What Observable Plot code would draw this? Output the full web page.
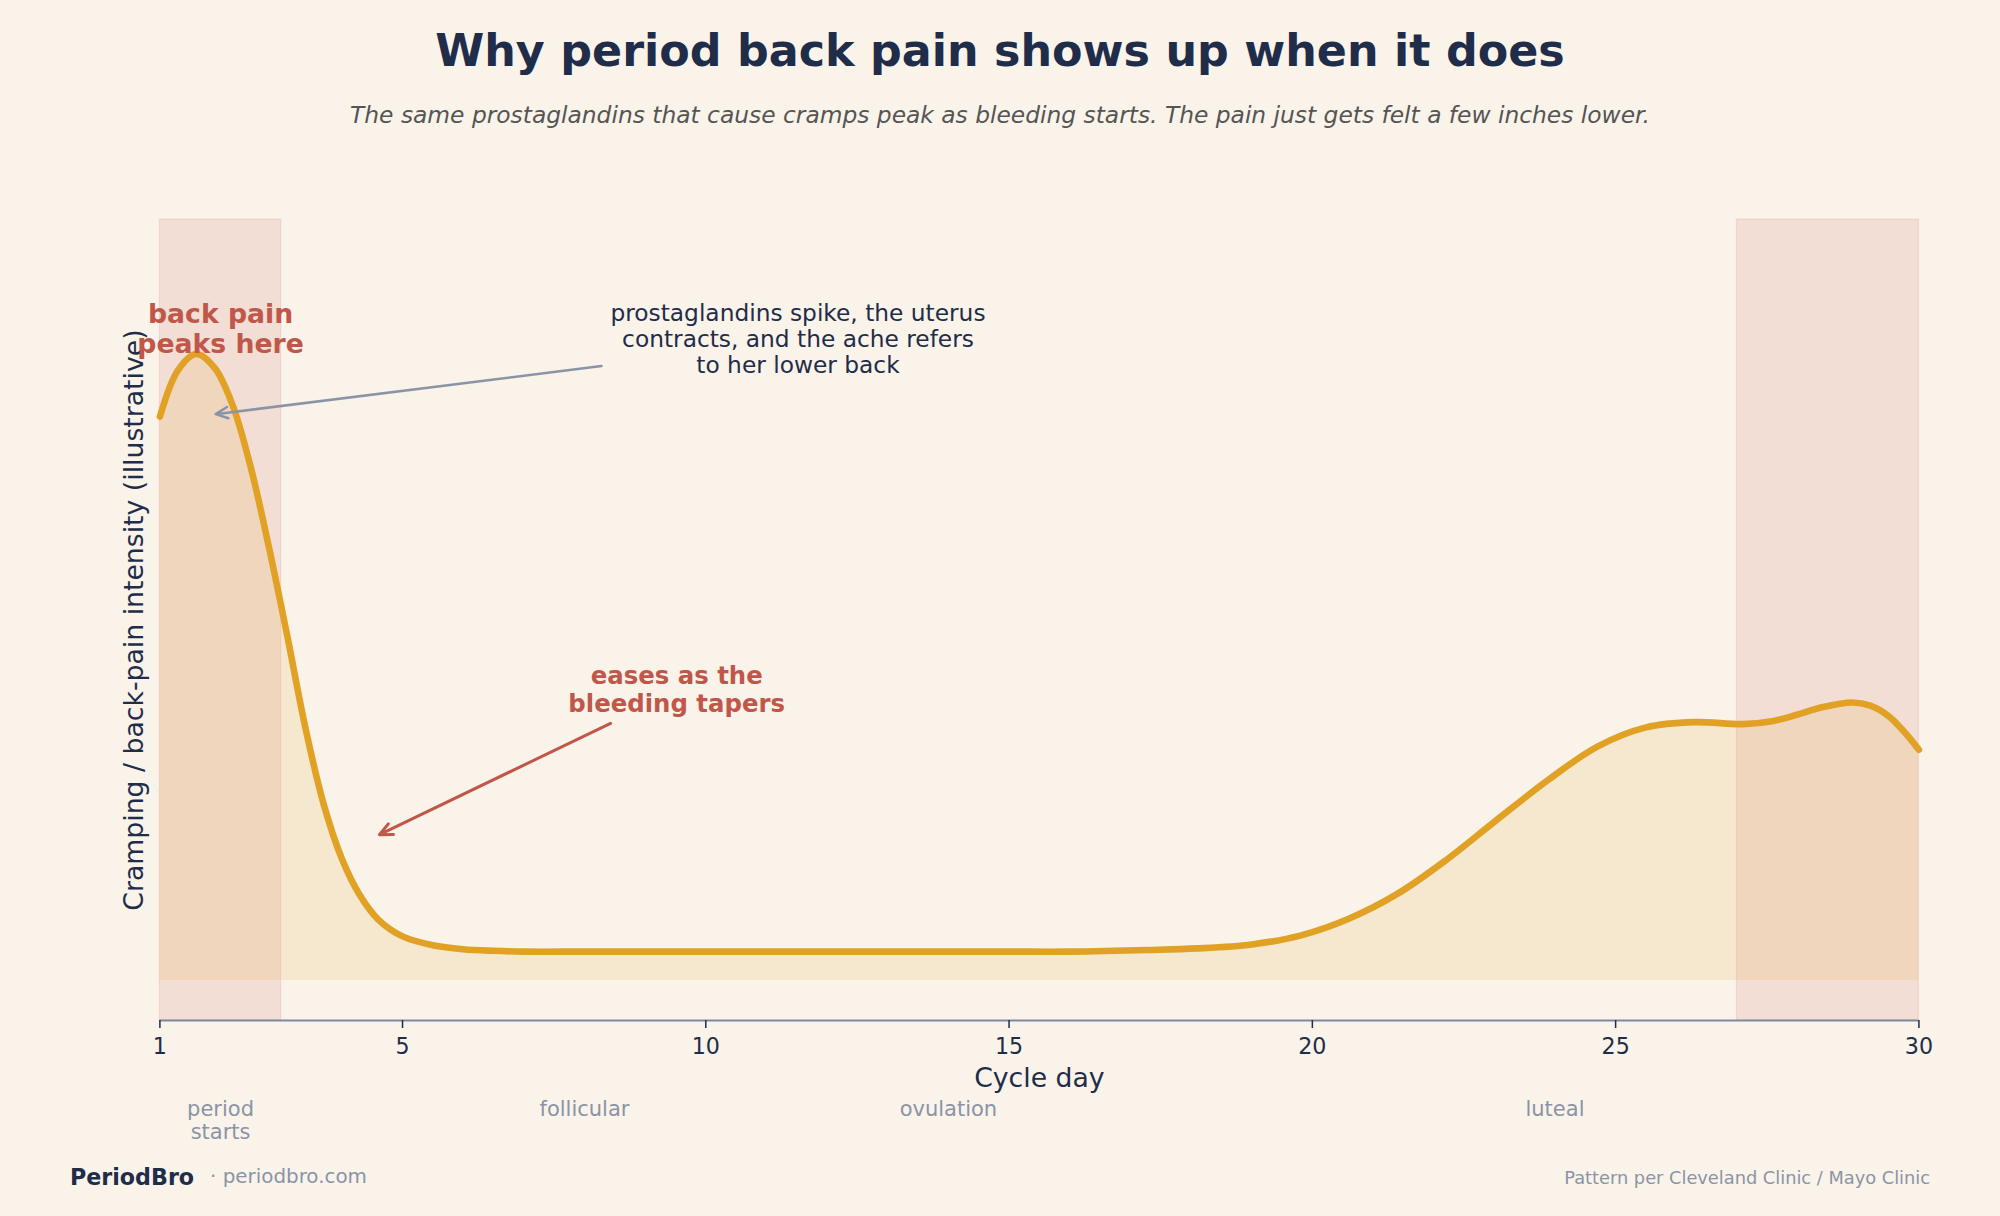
<!DOCTYPE html>
<html>
<head>
<meta charset="utf-8">
<script src="https://cdn.jsdelivr.net/npm/d3@7"></script>
<script src="https://cdn.jsdelivr.net/npm/@observablehq/plot@0.6"></script>
<style>
  html, body { margin: 0; padding: 0; background: #faf3e9; }
  #page { position: relative; width: 2000px; height: 1216px; background: #faf3e9; font-family: "DejaVu Sans", sans-serif; overflow: hidden; }
  .abs { position: absolute; line-height: 1; white-space: nowrap; }
  #title { top: 29px; left: 0; width: 2000px; text-align: center; font-size: 44.4px; font-weight: bold; color: #1f2d4a; }
  #subtitle { top: 104px; left: 0; width: 2000px; text-align: center; font-size: 23.35px; font-style: italic; color: #555555; }
  #chart { position: absolute; top: 160px; left: 0; }
  #brand { top: 1166px; left: 70px; font-size: 22.2px; font-weight: bold; color: #1f2d4a; }
  #site { top: 1167px; left: 210px; font-size: 19.9px; color: #8a94a6; }
  #source { top: 1169px; right: 70px; font-size: 17.8px; color: #8a94a6; }
</style>
</head>
<body>
<div id="page">
  <div id="title" class="abs">Why period back pain shows up when it does</div>
  <div id="subtitle" class="abs">The same prostaglandins that cause cramps peak as bleeding starts. The pain just gets felt a few inches lower.</div>
  <div id="chart"></div>
  <div id="brand" class="abs">PeriodBro</div>
  <div id="site" class="abs">· periodbro.com</div>
  <div id="source" class="abs">Pattern per Cleveland Clinic / Mayo Clinic</div>
</div>
<script>
// Illustrative cramping / back-pain intensity across a 30-day cycle
const cycleDays = [1, 1.3, 1.6, 1.9, 2.2, 2.5, 2.8, 3.1, 3.4, 3.7, 4, 4.3, 4.6, 5, 5.5, 6, 6.5,
  7, 8, 9, 10, 11, 12, 13, 14, 15, 16, 17.3, 18.1, 19, 19.8, 20.6, 21.4, 22.2, 23, 23.9, 24.7,
  25.5, 26.3, 27.1, 27.6, 28, 28.4, 28.9, 29.2, 29.5, 29.75, 30];
const intensity = [0.704, 0.762, 0.782, 0.765, 0.718, 0.64, 0.54, 0.43, 0.315, 0.22, 0.152, 0.106, 0.076, 0.055, 0.044, 0.039, 0.037,
  0.036, 0.036, 0.036, 0.036, 0.036, 0.036, 0.036, 0.036, 0.036, 0.036, 0.038, 0.040, 0.045, 0.056, 0.077, 0.108, 0.150, 0.198, 0.251, 0.292,
  0.316, 0.3225, 0.320, 0.324, 0.332, 0.341, 0.347, 0.343, 0.330, 0.311, 0.288];

// Bleeding windows (current period and the next one starting)
const spanStart = [1, 27];
const spanEnd = [3, 30];

// Cycle phases written under the axis
const phaseNames = ["period\nstarts", "follicular", "ovulation", "luteal"];
const phaseDays = [2, 8, 14, 24];

const xTicks = [1, 5, 10, 15, 20, 25, 30];
const xLabel = "Cycle day";
const yLabel = "Cramping / back-pain intensity (illustrative)";

// Annotations: text anchor and pointer endpoints
const noteText = [
  "back pain\npeaks here",
  "prostaglandins spike, the uterus\ncontracts, and the ache refers\nto her lower back",
  "eases as the\nbleeding tapers"
];
const noteDay = [2.0, 11.52, 9.52];
const noteValue = [0.814, 0.801, 0.364];
const pointerFromDay = [8.28, 8.43];
const pointerFromValue = [0.767, 0.321];
const pointerToDay = [1.92, 4.62];
const pointerToValue = [0.707, 0.182];

const yDomain = [-0.05, 0.95];

const GOLD = "#e0a125";
const RED = "#c0574a";
const NAVY = "#1f2d4a";
const GREY = "#8a94a6";

const curveData = cycleDays.map((d, i) => ({day: d, value: intensity[i]}));
const spans = spanStart.map((s, i) => ({start: s, end: spanEnd[i]}));
const phases = phaseNames.map((n, i) => ({name: n, day: phaseDays[i]}));
const notes = noteText.map((t, i) => ({text: t, day: noteDay[i], value: noteValue[i]}));
const pointers = pointerFromDay.map((d, i) => ({x1: d, y1: pointerFromValue[i], x2: pointerToDay[i], y2: pointerToValue[i]}));

const chart = Plot.plot({
  width: 2000,
  height: 1000,
  marginTop: 59,
  marginBottom: 140,
  marginLeft: 159.4,
  marginRight: 81.6,
  style: {background: "transparent", fontFamily: "DejaVu Sans", fontSize: "22.2px", overflow: "visible"},
  x: {domain: [1, 30], axis: null},
  y: {domain: yDomain, axis: null},
  marks: [
    Plot.rect(spans, {x1: "start", x2: "end", fill: RED, fillOpacity: 0.13, stroke: RED, strokeOpacity: 0.12, strokeWidth: 1.2}),
    Plot.areaY(curveData, {x: "day", y: "value", fill: GOLD, fillOpacity: 0.13, curve: "catmull-rom"}),
    Plot.line(curveData, {x: "day", y: "value", stroke: GOLD, strokeWidth: 6.6, curve: "catmull-rom"}),
    Plot.ruleY([yDomain[0]], {stroke: "#7f899d", strokeWidth: 2}),
    Plot.axisX({ticks: xTicks, tickSize: 8, tickPadding: 9.5, fontSize: 22.2, color: NAVY, strokeWidth: 1.5, label: null}),
    Plot.text([xLabel], {text: d => d, frameAnchor: "bottom", dy: 58, fontSize: 26.7, fill: NAVY, lineAnchor: "middle"}),
    Plot.text([yLabel], {text: d => d, frameAnchor: "left", dx: -25, rotate: -90, fontSize: 26.7, fill: NAVY, textAnchor: "middle", lineAnchor: "middle"}),
    Plot.text(phases, {x: "day", text: "name", frameAnchor: "bottom", dy: 79, fontSize: 21, lineHeight: 1.11, fill: GREY, lineAnchor: "top"}),
    Plot.arrow([pointers[0]], {x1: "x1", y1: "y1", x2: "x2", y2: "y2", stroke: GREY, strokeWidth: 2.5, headLength: 8, headAngle: 50, insetStart: 0, insetEnd: 0}),
    Plot.arrow([pointers[1]], {x1: "x1", y1: "y1", x2: "x2", y2: "y2", stroke: RED, strokeWidth: 3, headLength: 7, headAngle: 50, insetStart: 0, insetEnd: 0}),
    Plot.text([notes[0]], {x: "day", y: "value", text: "text", fontSize: 26.7, fontWeight: "bold", fill: RED, lineHeight: 1.124, lineAnchor: "middle"}),
    Plot.text([notes[1]], {x: "day", y: "value", text: "text", fontSize: 23.3, fill: NAVY, lineHeight: 1.12, lineAnchor: "middle"}),
    Plot.text([notes[2]], {x: "day", y: "value", text: "text", fontSize: 24.4, fontWeight: "bold", fill: RED, lineHeight: 1.15, lineAnchor: "middle"})
  ]
});

document.getElementById("chart").appendChild(chart);
</script>
</body>
</html>
